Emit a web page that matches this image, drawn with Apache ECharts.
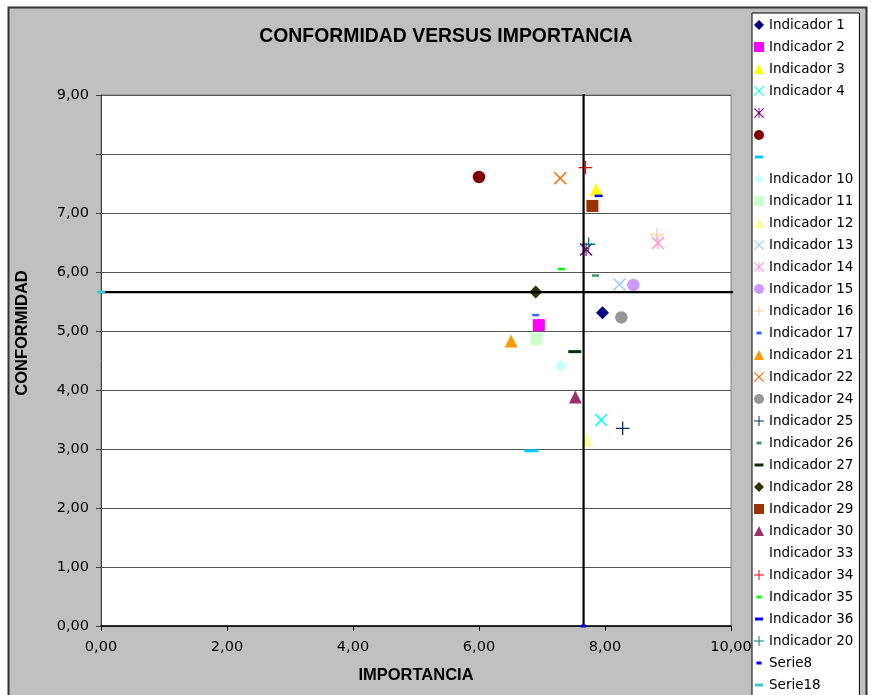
<!DOCTYPE html>
<html>
<head>
<meta charset="utf-8">
<script src="https://cdn.jsdelivr.net/npm/echarts@6/dist/echarts.min.js"></script>
<style>
  html, body { margin: 0; padding: 0; background: #ffffff; }
  #chart { width: 871px; height: 695px; }
</style>
</head>
<body>
<div id="chart"></div>
<script>
// Indicator names in legend order (three series have no name, kept as blanks)
const indicadores = [
  'Indicador 1', 'Indicador 2', 'Indicador 3', 'Indicador 4', ' ', '  ', '   ',
  'Indicador 10', 'Indicador 11', 'Indicador 12', 'Indicador 13', 'Indicador 14',
  'Indicador 15', 'Indicador 16', 'Indicador 17', 'Indicador 21', 'Indicador 22',
  'Indicador 24', 'Indicador 25', 'Indicador 26', 'Indicador 27', 'Indicador 28',
  'Indicador 29', 'Indicador 30', 'Indicador 33', 'Indicador 34', 'Indicador 35',
  'Indicador 36', 'Indicador 20'
];

// Importance (x) and conformity (y) per indicator; null = no point
const importancia = [
  7.96, 6.95, 7.86, 7.94, 7.70, 6.00, 6.83,
  7.30, 6.91, 7.71, 8.23, 8.84,
  8.45, 8.82, 6.90, 6.51, 7.29,
  8.26, 8.28, 7.85, 7.52, 6.90,
  7.80, 7.53, null, 7.69, 7.31,
  7.90, 7.74
];
const conformidad = [
  5.31, 5.10, 7.40, 3.49, 6.38, 7.61, 2.97,
  4.41, 4.86, 3.15, 5.79, 6.49,
  5.78, 6.63, 5.27, 4.83, 7.59,
  5.23, 3.35, 5.94, 4.65, 5.66,
  7.12, 3.88, null, 7.77, 6.05,
  7.29, 6.47
];

// Average lines: vertical (importance) and horizontal (conformity)
const serie8Importancia = [7.66, 7.66];
const serie8Conformidad = [0, 10];
const serie18Importancia = [0, 12];
const serie18Conformidad = [5.66, 5.66];

// Axis tick labels (the 8,00 label is left blank)
const xTickLabels = ['0,00', '2,00', '4,00', '6,00', '8,00', '10,00'];
const yTickLabels = ['0,00', '1,00', '2,00', '3,00', '4,00', '5,00', '6,00', '7,00', '', '9,00'];

// Marker shapes
const X_PATH = 'path://M0,0.8L0.8,0L5,4.2L9.2,0L10,0.8L5.8,5L10,9.2L9.2,10L5,5.8L0.8,10L0,9.2L4.2,5Z';
const STAR_PATH = 'path://M0,0.8L0.8,0L5,4.2L9.2,0L10,0.8L5.8,5L10,9.2L9.2,10L5,5.8L0.8,10L0,9.2L4.2,5Z' +
                  'M4.55,0H5.45V10H4.55Z';
const PLUS_PATH = 'path://M4.5,0H5.5V4.5H10V5.5H5.5V10H4.5V5.5H0V4.5H4.5Z';
function dashIcon(w) {
  const a = (10 - w) / 2;
  return 'path://M0,0M10,10M' + a + ',3.5H' + (a + w) + 'V6.5H' + a + 'Z';
}

// Marker style per indicator: [shape, colour, dash size, dash legend width]
const markerStyles = [
  ['diamond', '#000080'], ['square', '#FF00FF'], ['triangle', '#FFFF00'], ['x', '#00FFFF'],
  ['star', '#800080'], ['circle', '#800000'], ['dash', '#00CCFF', [14, 3], 8],
  ['diamond', '#CCFFFF'], ['square', '#CCFFCC'], ['triangle', '#FFFF99'], ['x', '#99CCFF'],
  ['star', '#FF99CC'], ['circle', '#CC99FF'], ['plus', '#FFCC99'], ['dash', '#3366FF', [7, 2.5], 5],
  ['triangle', '#FF9900'], ['x', '#FF6600'], ['circle', '#969696'], ['plus', '#003366'],
  ['dash', '#339966', [7, 2.5], 5], ['dash', '#003300', [13, 3], 9], ['diamond', '#333300'],
  ['square', '#993300'], ['triangle', '#993366'], ['none', '#FFFFFF'], ['plus', '#FF0000'],
  ['dash', '#00FF00', [7, 2.5], 5], ['dash', '#0000FF', [8, 2.5], 8], ['plus', '#008080']
];

function symbolFor(shape) {
  switch (shape) {
    case 'diamond': return { symbol: 'diamond', size: 13 };
    case 'square': return { symbol: 'rect', size: 12 };
    case 'triangle': return { symbol: 'triangle', size: 13 };
    case 'circle': return { symbol: 'circle', size: 12.5 };
    case 'x': return { symbol: X_PATH, size: 13 };
    case 'star': return { symbol: STAR_PATH, size: 13 };
    case 'plus': return { symbol: PLUS_PATH, size: 13.5 };
    case 'dash': return { symbol: 'rect', size: 8 };
    default: return { symbol: 'none', size: 0 };
  }
}

const series = [];
const legendData = [];

indicadores.forEach(function (name, i) {
  const st = markerStyles[i];
  const sym = symbolFor(st[0]);
  const data = importancia[i] == null ? [] : [[importancia[i], conformidad[i]]];
  series.push({
    type: 'scatter',
    name: name,
    data: data,
    symbol: sym.symbol,
    symbolSize: st[0] === 'dash' ? st[2] : sym.size,
    itemStyle: { color: st[1], opacity: 1 },
    emphasis: { disabled: true },
    z: 3
  });
  const item = { name: name };
  if (st[0] === 'dash') item.icon = dashIcon(st[3]);
  if (st[0] === 'none') item.itemStyle = { opacity: 0 };
  legendData.push(item);
});

// Reference lines through the averages
series.push({
  type: 'line',
  name: 'Serie8',
  data: serie8Importancia.map(function (x, k) { return [x, serie8Conformidad[k]]; }),
  symbol: 'rect',
  symbolSize: [5, 3],
  showSymbol: true,
  clip: true,
  itemStyle: { color: '#0000FF' },
  lineStyle: { color: '#000000', width: 2.2 },
  emphasis: { disabled: true },
  z: 4
});
legendData.push({ name: 'Serie8', icon: dashIcon(5) });

series.push({
  type: 'line',
  name: 'Serie18',
  data: serie18Importancia.map(function (x, k) { return [x, serie18Conformidad[k]]; }),
  symbol: 'rect',
  symbolSize: [8, 3],
  showSymbol: true,
  clip: true,
  itemStyle: { color: '#33CCCC' },
  lineStyle: { color: '#000000', width: 2.2 },
  emphasis: { disabled: true },
  z: 4
});
legendData.push({ name: 'Serie18', icon: dashIcon(8) });

const chart = echarts.init(document.getElementById('chart'), null, { renderer: 'canvas' });

chart.setOption({
  animation: false,
  backgroundColor: '#ffffff',
  graphic: [
    {
      type: 'rect',
      z: -10,
      shape: { x: 8.5, y: 7.5, width: 858, height: 720 },
      style: { fill: '#C0C0C0', stroke: '#333333', lineWidth: 2 }
    },
    {
      type: 'text',
      x: 446,
      y: 37,
      style: {
        text: 'CONFORMIDAD VERSUS IMPORTANCIA',
        fontFamily: 'Liberation Sans, Arial, sans-serif',
        fontWeight: 'bold',
        fontSize: 19.4,
        fill: '#000000',
        align: 'center',
        verticalAlign: 'middle'
      }
    },
    {
      type: 'text',
      x: 22,
      y: 333,
      rotation: Math.PI / 2,
      style: {
        text: 'CONFORMIDAD',
        fontFamily: 'Liberation Sans, Arial, sans-serif',
        fontWeight: 'bold',
        fontSize: 16.5,
        fill: '#000000',
        align: 'center',
        verticalAlign: 'middle'
      }
    }
  ],
  grid: {
    left: 101,
    right: 140,
    top: 95,
    bottom: 69,
    show: true,
    backgroundColor: '#ffffff',
    borderColor: '#808080',
    borderWidth: 1,
    containLabel: false
  },
  legend: {
    orient: 'vertical',
    left: 752,
    top: 13,
    height: 760,
    padding: [4, 6, 4, 2],
    itemGap: 6,
    itemWidth: 10,
    itemHeight: 10,
    selectedMode: false,
    backgroundColor: '#ffffff',
    borderColor: '#000000',
    borderWidth: 1,
    textStyle: {
      fontFamily: 'DejaVu Sans, Verdana, sans-serif',
      fontSize: 13.5,
      lineHeight: 16,
      color: '#000000'
    },
    data: legendData
  },
  xAxis: {
    type: 'value',
    min: 0,
    max: 10,
    interval: 2,
    name: 'IMPORTANCIA',
    nameLocation: 'middle',
    nameGap: 41,
    nameTextStyle: {
      fontFamily: 'Liberation Sans, Arial, sans-serif',
      fontWeight: 'bold',
      fontSize: 16.5,
      color: '#000000'
    },
    axisLine: { show: true, onZero: false, lineStyle: { color: '#000000', width: 1.5 } },
    axisTick: { show: true, length: 5, lineStyle: { color: '#000000' } },
    splitLine: { show: false },
    axisLabel: {
      margin: 14,
      fontFamily: 'DejaVu Sans, Verdana, sans-serif',
      fontSize: 14.5,
      color: '#000000',
      formatter: function (v) { return xTickLabels[Math.round(v / 2)]; }
    }
  },
  yAxis: {
    type: 'value',
    min: 0,
    max: 9,
    interval: 1,
    axisLine: { show: true, onZero: false, lineStyle: { color: '#404040', width: 1 } },
    axisTick: { show: true, length: 5, lineStyle: { color: '#404040' } },
    splitLine: { show: true, lineStyle: { color: '#555555', width: 1 } },
    axisLabel: {
      margin: 12,
      fontFamily: 'DejaVu Sans, Verdana, sans-serif',
      fontSize: 14.5,
      color: '#000000',
      formatter: function (v) { return yTickLabels[Math.round(v)]; }
    }
  },
  series: series
});
</script>
</body>
</html>
